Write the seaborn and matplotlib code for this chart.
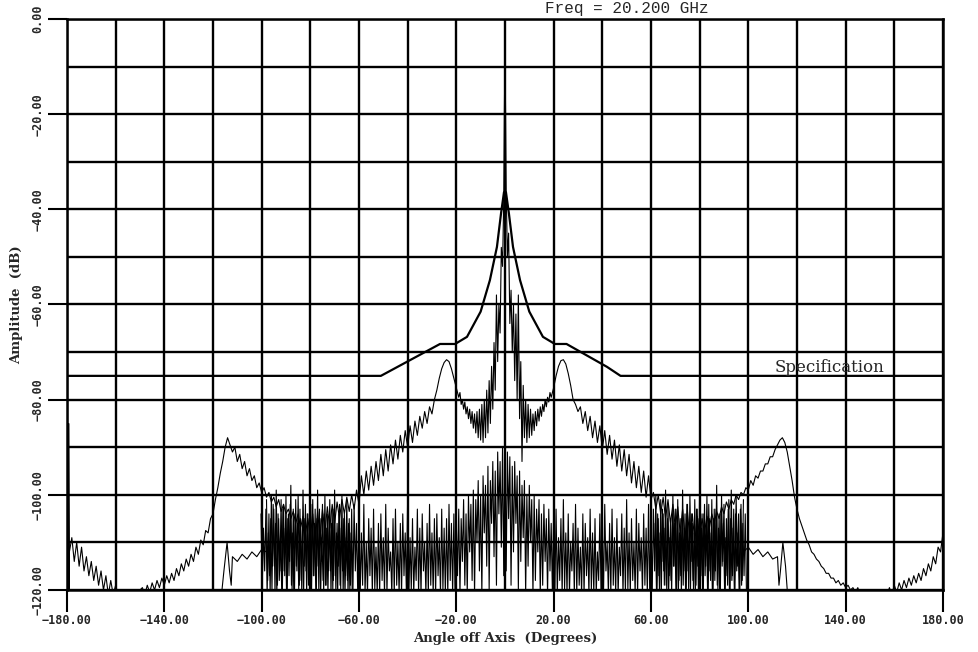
import matplotlib
matplotlib.use('Agg')
import matplotlib.pyplot as plt
import numpy as np
import pandas as pd
import seaborn as sns

sns.set_style('white')
plt.rcParams['font.family'] = ['DejaVu Sans Mono', 'DejaVu Sans']

# ---- data (angle in deg, amplitude in dB) ----
xtick_deg = [-180, -140, -100, -60, -20, 20, 60, 100, 140, 180]
xtick_txt = ['\u2212180.00', '\u2212140.00', '\u2212100.00', '\u221260.00', '\u221220.00',
             '20.00', '60.00', '100.00', '140.00', '180.00']
ytick_db = [0, -20, -40, -60, -80, -100, -120]
ytick_txt = ['0.00', '\u221220.00', '\u221240.00', '\u221260.00', '\u221280.00',
             '\u2212100.00', '\u2212120.00']

spec_deg = [-180, -51, -26.7, -20.5, -15.6, -10, -6.2, -3.3, -1.6, -0.4,
            0.4, 1.6, 3.3, 6.2, 10, 15.6, 20.5, 25.3, 41.9, 47.5, 180]
spec_db = [-75, -75, -68.3, -68.3, -66.8, -61.5, -54.9, -47.9, -40.8, -36.4,
           -36.4, -40.8, -47.9, -54.9, -61.5, -66.8, -68.3, -68.3, -73.1, -75, -75]

# main pattern, left to right, 1 deg steps unless stated
edge_left_db = [-108, -112, -109, -114, -110, -115, -111, -116, -113, -117, -114, -118,
                -115, -119, -116, -120, -117, -121, -118, -121, -119, -121, -121, -121,
                -121, -121, -121, -121, -121, -121, -120]            # -180 .. -150
lobe_left_db = [-119.5, -121, -119, -120.5, -118.5, -120, -118, -119.5, -117.5, -119,
                -117, -118.5, -116.5, -118, -115.5, -117, -114.5, -116, -113.5, -115,
                -112.5, -114, -111, -112.5, -109.5, -110.5, -107.5, -108, -105, -104,
                -101, -98.5, -95.5, -93, -90, -88, -89.5]             # -149 .. -113
fall_left_db = [-91, -90, -93, -91.5, -94.5, -93, -96, -94.5, -97, -96, -98.5, -97.5,
                -99.5, -98.5, -100.5, -99.5, -101.5, -100.5, -102.5, -101, -103.5, -102,
                -104, -103, -105, -103.5, -106, -104, -107, -104.5, -108, -105, -109,
                -104, -110, -103.5, -109, -103, -108, -102.5, -107, -102, -106, -101.5,
                -105, -101, -104, -100.5, -103.5, -100, -103, -99, -102]   # -112 .. -60
rise_left_db = [-96, -100, -95, -99, -94, -98, -93, -97, -91.5, -96, -90.5, -95, -89.5,
                -93.5, -88.5, -92.5, -87.5, -91, -86.5, -90, -85.5, -89, -84.5, -87.5,
                -83.5, -86, -82.5, -85, -81.5, -83, -80]              # -59 .. -29
center_deg = [-28, -27, -26, -25, -24, -23, -22, -21, -20, -19, -18.5, -18, -17.5, -17,
              -16.5, -16, -15.5, -15, -14.5, -14, -13.5, -13, -12.5, -12, -11.5, -11,
              -10.5, -10, -9.5, -9, -8.5, -8, -7.5, -7, -6.5, -6, -5.5, -5, -4.5, -4,
              -3.5, -3, -2.5, -2, -1.5, -1, -0.5, -0.25, 0, 0.25, 0.5, 1, 1.5, 2, 2.5,
              3, 3.5, 4, 4.5, 5, 5.5, 6, 6.5, 7, 7.5, 8, 8.5, 9, 9.5, 10, 10.5, 11,
              11.5, 12, 12.5, 13, 13.5, 14, 14.5, 15, 15.5, 16, 16.5, 17, 17.5, 18,
              18.5, 19, 20, 21, 22, 23, 24, 25, 26, 27, 28]
center_db = [-78, -75.5, -73.5, -72.2, -71.6, -72, -73.5, -75.5, -77.5, -79.5, -78.5, -81,
             -80, -82, -80.5, -83, -81.5, -84, -82, -85, -82.5, -86, -83, -87, -82.5, -88,
             -82, -88.5, -81, -89, -80, -88, -78, -87, -76, -85, -73, -82, -68, -78,
             -58, -72, -60, -66, -48, -52, -38, -20, -7, -20, -36, -50, -45, -64, -57,
             -70, -60, -76, -62, -80, -58, -84, -72, -93, -77, -88, -80, -89, -81, -88,
             -82, -87.5, -83, -86.5, -82.5, -85.5, -82, -84.5, -81.5, -83.5, -81, -82.5,
             -80, -81.5, -79.5, -80.5, -78.5, -79.5, -77.5, -75, -73, -71.8, -71.6,
             -72.5, -74.5, -77, -80]
fall_right_db = [-81, -82.5, -81.5, -85, -82.5, -86.5, -83.5, -88, -84.5, -89, -85.5,
                 -90.5, -86.5, -91.5, -87.5, -92.5, -88.5, -94, -89.5, -95, -90.5, -96,
                 -91.5, -97.5, -93, -98.5, -94, -99.5, -95, -100.5, -96]   # 29 .. 59
rise_right_db = [-101, -99.5, -103, -100, -104, -100.5, -105, -101, -106, -102, -107,
                 -102.5, -108, -103, -109, -103.5, -109.5, -104, -110, -104.5, -109, -105,
                 -108, -104.5, -107, -104, -106, -103.5, -105, -102.5, -104, -101.5, -103,
                 -101, -102, -100, -101, -99.5, -100, -98.5, -99, -97, -98, -96, -96.5,
                 -95, -95, -93.5, -93.5, -92, -92, -90.5, -89.5]   # 60 .. 112
lobe_right_db = [-88.5, -88, -89, -91, -94, -97, -100.5, -103, -105, -106.5, -108,
                 -109.5, -110.5, -112, -112.5, -113.5, -114, -115, -115.5, -116.5, -116.5,
                 -117.5, -117.5, -118.5, -118, -119, -118.5, -119.5, -119, -120, -119.5,
                 -120.5, -119.5, -121, -120, -121, -120, -121]   # 113 .. 150
edge_right_db = [-121, -121, -121, -120, -121, -120, -121, -119.5, -121, -119, -120.5,
                 -118.5, -120, -118, -119.5, -117.5, -119, -117, -118.5, -116.5, -118,
                 -115.5, -117, -114.5, -116, -113, -114.5, -111, -112, -108]   # 151 .. 180

# second (lower) trace: narrow lobes at +-114 deg and a spike at the left edge
low_left_deg = [-179.3, -179.3, -179, -116.5, -115.5, -114.2, -113.2, -112.5, -112,
                -110, -108, -106, -104, -102, -100, -98]
low_left_db = [-121, -85, -121, -121, -116, -110, -116, -119, -113, -114, -112.5,
               -113.5, -112, -113, -111.5, -112]
low_right_deg = [98, 100, 102, 104, 106, 108, 110, 112, 112.6, 113.2, 114.2, 115.3,
                 116, 117, 179.5]
low_right_db = [-112, -111, -112.5, -111.5, -113, -112, -113.5, -113, -119, -116, -110,
                -115, -120, -121, -121]

# dense floor noise: peaks at whole degrees -98..98, troughs half a degree later
noise_top_db = [
    -101, -104, -100, -103, -99, -105, -101, -102, -100, -104, -98, -103, -101, -100,
    -105, -99, -102, -104, -100, -101, -103, -99, -105, -102, -100, -104, -101, -103,
    -99, -106, -102, -100, -104, -101, -105, -103, -102, -106,
    -104, -108, -102, -110, -105, -107, -103, -111, -106, -104, -109, -102, -107, -112,
    -105, -103, -110, -106, -104, -108, -101, -109, -105, -111, -103, -107, -104, -110,
    -106, -102, -108, -105, -104, -109, -103, -107, -105, -102, -106, -104,
    -106, -103, -105, -101, -104, -100, -102, -99, -101, -97, -100, -96, -98, -94, -97,
    -93, -95, -91, -93, -90, -89, -91, -92, -94, -93, -96, -95, -98, -97, -100, -98,
    -101, -100, -103, -101, -104, -102, -105, -103, -106, -104,
    -103, -109, -105, -101, -108, -104, -110, -106, -102, -107, -111, -104, -106, -109,
    -103, -108, -105, -112, -104, -107, -102, -110, -106, -103, -109, -105, -111, -104,
    -107, -101, -108, -105, -110, -103, -106, -109, -104, -107, -102, -105,
    -103, -100, -105, -101, -104, -99, -102, -106, -100, -103, -101, -105, -99, -104,
    -102, -100, -106, -101, -103, -99, -104, -102, -100, -105, -101, -103, -98, -104,
    -100, -102, -105, -101, -99, -103, -100, -104, -102, -101]
noise_low_db = [
    -118, -121, -115, -121, -119, -116, -121, -117, -121, -114, -120, -121, -116, -119,
    -121, -115, -121, -118, -121, -117, -120, -121, -114, -121, -119, -116, -121, -118,
    -121, -115, -120, -121, -117, -121, -119, -121, -116, -121,
    -121, -119, -121, -121, -117, -121, -120, -121, -121, -118, -121, -121, -116, -121,
    -121, -119, -121, -121, -117, -121, -121, -120, -121, -118, -121, -121, -116, -121,
    -121, -119, -121, -121, -117, -121, -120, -121, -121, -118, -121, -121,
    -117, -121, -114, -119, -121, -112, -118, -121, -110, -116, -121, -108, -115, -120,
    -106, -113, -119, -104, -111, -117, -116, -105, -119, -112, -106, -120, -114, -109,
    -121, -115, -110, -121, -118, -112, -121, -119, -114, -121, -116, -121,
    -121, -121, -118, -121, -120, -121, -121, -116, -121, -121, -119, -121, -121, -117,
    -121, -120, -121, -121, -118, -121, -121, -116, -121, -121, -119, -121, -121, -117,
    -121, -121, -120, -121, -118, -121, -121, -116, -121, -119, -121, -121,
    -121, -116, -120, -121, -114, -119, -121, -117, -121, -115, -121, -118, -121, -116,
    -120, -121, -114, -121, -119, -121, -117, -121, -115, -121, -118, -121, -116, -120,
    -121, -114, -121, -119, -121, -117, -121, -115, -121, -118]

# extra dense clutter in the +-(60..100) deg bands, peak / trough alternating every 0.5 deg
clutter_left_db = [
    -104, -119, -107, -116, -103, -121, -108, -117, -105, -120, -102, -115, -106, -121,
    -104, -118, -109, -120, -103, -116, -107, -121, -105, -117, -102, -119, -108, -121,
    -104, -115, -106, -120, -103, -118, -107, -121, -105, -116, -104, -119, -108, -121,
    -102, -117, -106, -120, -105, -115, -103, -121, -109, -118, -104, -119, -107, -121,
    -105, -116, -106, -120, -103, -117, -108, -121, -104, -119, -107, -116, -105, -121,
    -109, -118, -106, -120, -108, -121]
clutter_right_db = [
    -106, -120, -104, -117, -108, -121, -103, -116, -107, -119, -105, -121, -109, -118,
    -104, -115, -106, -120, -103, -121, -108, -117, -105, -119, -107, -121, -102, -116,
    -106, -120, -104, -118, -108, -121, -103, -115, -105, -119, -107, -121, -104, -117,
    -106, -120, -102, -116, -108, -121, -105, -118, -103, -119, -107, -121, -104, -115,
    -106, -120, -109, -117, -103, -121, -105, -118, -107, -120, -104, -116, -108, -121,
    -103, -119, -106, -117, -104, -121]


def run(start, step, vals):
    return list(start + step * np.arange(len(vals))), list(vals)


pieces = [run(-180, 1, edge_left_db), run(-149, 1, lobe_left_db),
          run(-112, 1, fall_left_db), run(-59, 1, rise_left_db),
          (center_deg, center_db), run(29, 1, fall_right_db),
          run(60, 1, rise_right_db), run(113, 1, lobe_right_db),
          run(151, 1, edge_right_db)]
main_deg = sum([p[0] for p in pieces], [])
main_db = sum([p[1] for p in pieces], [])

top_deg = list(np.arange(-98, 99, 1.0))
low_deg = list(np.arange(-97.5, 98, 1.0))
noise_deg, noise_db = [], []
for i in range(len(top_deg)):
    noise_deg.append(top_deg[i])
    noise_db.append(noise_top_db[i])
    if i < len(low_deg):
        noise_deg.append(low_deg[i])
        noise_db.append(noise_low_db[i])

cl_deg, cl_db = run(-100.25, 0.5, clutter_left_db)
cr_deg, cr_db = run(61.75, 0.5, clutter_right_db)

frames = []
for name, d, v in [('main', main_deg, main_db),
                   ('low_l', low_left_deg, low_left_db),
                   ('low_r', low_right_deg, low_right_db),
                   ('noise', noise_deg, noise_db),
                   ('clut_l', cl_deg, cl_db),
                   ('clut_r', cr_deg, cr_db)]:
    frames.append(pd.DataFrame({'angle': d, 'db': v, 'trace': name}))
pattern = pd.concat(frames, ignore_index=True)
spec = pd.DataFrame({'angle': spec_deg, 'db': spec_db})

# ---- figure ----
fig = plt.figure(figsize=(9.79, 6.52), dpi=100)
ax = fig.add_axes([0.0684, 0.0951, 0.8948, 0.8758])

sns.lineplot(data=pattern, x='angle', y='db', units='trace', estimator=None,
             sort=False, color='black', linewidth=0.8, legend=False, ax=ax)
sns.lineplot(data=spec, x='angle', y='db', estimator=None, sort=False,
             color='black', linewidth=1.6, ax=ax)

ax.set_xlim(-180, 180)
ax.set_ylim(-120, 0)
ax.set_xticks(xtick_deg)
ax.set_xticks(np.arange(-180, 181, 20), minor=True)
ax.set_yticks(ytick_db)
ax.set_yticks(np.arange(-120, 1, 10), minor=True)
ax.grid(which='both', color='black', linewidth=1.7)
ax.set_axisbelow(True)
for s in ax.spines.values():
    s.set_color('black')
    s.set_linewidth(1.8)

ax.set_xticklabels(xtick_txt, fontweight='bold', fontsize=8.5)
ax.set_yticklabels(ytick_txt, fontweight='bold', fontsize=8.5, rotation=90, va='center')
ax.tick_params(axis='x', which='major', direction='out', length=16, width=1.5, pad=1,
               bottom=True, color='black')
ax.tick_params(axis='y', which='major', direction='out', length=14, width=1.5, pad=2,
               left=True, color='black')
ax.tick_params(which='minor', length=0)

ax.set_xlabel('Angle off Axis  (Degrees)', family='DejaVu Serif', fontweight='bold',
              fontsize=9.5, labelpad=4)
ax.set_ylabel('Amplitude  (dB)', family='DejaVu Serif', fontweight='bold',
              fontsize=9.5, labelpad=6)

ax.text(110.9, -74.2, 'Specification', family='DejaVu Serif', fontsize=12,
        va='baseline', ha='left')
fig.text(627 / 979, 1 - 1 / 652, 'Freq = 20.200 GHz', family='Liberation Mono',
         fontsize=11.5, ha='center', va='top')

fig.savefig('out.png', dpi=100, facecolor='white')
